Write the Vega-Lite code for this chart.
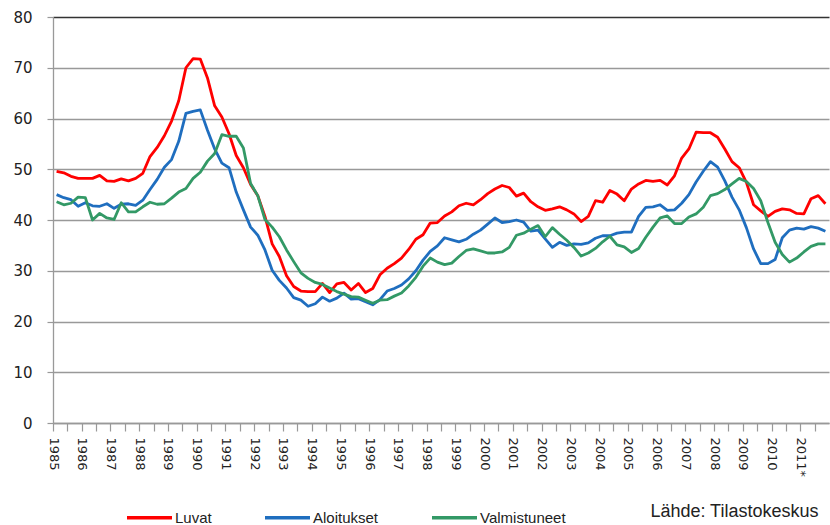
{
  "$schema": "https://vega.github.io/schema/vega-lite/v6.json",
  "width": 776,
  "height": 406,
  "autosize": {"type": "none"},
  "padding": {"left": 53, "top": 17, "right": 1, "bottom": 102},
  "background": "white",
  "config": {"view": {"stroke": null}},
  "data": {"values": [
    {"t":1985.125,"Luvat":49.6,"Aloitukset":45,"Valmistuneet":43.6},
    {"t":1985.375,"Luvat":49.3,"Aloitukset":44.4,"Valmistuneet":43},
    {"t":1985.625,"Luvat":48.6,"Aloitukset":44,"Valmistuneet":43.3},
    {"t":1985.875,"Luvat":48.2,"Aloitukset":42.7,"Valmistuneet":44.5},
    {"t":1986.125,"Luvat":48.2,"Aloitukset":43.4,"Valmistuneet":44.4},
    {"t":1986.375,"Luvat":48.2,"Aloitukset":42.8,"Valmistuneet":40},
    {"t":1986.625,"Luvat":48.8,"Aloitukset":42.7,"Valmistuneet":41.3},
    {"t":1986.875,"Luvat":47.7,"Aloitukset":43.2,"Valmistuneet":40.4},
    {"t":1987.125,"Luvat":47.6,"Aloitukset":42.3,"Valmistuneet":40.1},
    {"t":1987.375,"Luvat":48.1,"Aloitukset":43.1,"Valmistuneet":43.4},
    {"t":1987.625,"Luvat":47.7,"Aloitukset":43.2,"Valmistuneet":41.6},
    {"t":1987.875,"Luvat":48.2,"Aloitukset":42.9,"Valmistuneet":41.6},
    {"t":1988.125,"Luvat":49.2,"Aloitukset":43.9,"Valmistuneet":42.6},
    {"t":1988.375,"Luvat":52.5,"Aloitukset":46,"Valmistuneet":43.5},
    {"t":1988.625,"Luvat":54.3,"Aloitukset":48,"Valmistuneet":43.1},
    {"t":1988.875,"Luvat":56.6,"Aloitukset":50.4,"Valmistuneet":43.2},
    {"t":1989.125,"Luvat":59.5,"Aloitukset":51.9,"Valmistuneet":44.3},
    {"t":1989.375,"Luvat":63.5,"Aloitukset":55.5,"Valmistuneet":45.5},
    {"t":1989.625,"Luvat":70,"Aloitukset":61,"Valmistuneet":46.2},
    {"t":1989.875,"Luvat":71.8,"Aloitukset":61.4,"Valmistuneet":48.2},
    {"t":1990.125,"Luvat":71.7,"Aloitukset":61.7,"Valmistuneet":49.4},
    {"t":1990.375,"Luvat":68,"Aloitukset":57.7,"Valmistuneet":51.6},
    {"t":1990.625,"Luvat":62.5,"Aloitukset":54,"Valmistuneet":53.1},
    {"t":1990.875,"Luvat":60.3,"Aloitukset":51.2,"Valmistuneet":56.8},
    {"t":1991.125,"Luvat":57,"Aloitukset":50.3,"Valmistuneet":56.5},
    {"t":1991.375,"Luvat":52.7,"Aloitukset":45.5,"Valmistuneet":56.5},
    {"t":1991.625,"Luvat":50.3,"Aloitukset":42,"Valmistuneet":54.2},
    {"t":1991.875,"Luvat":47,"Aloitukset":38.6,"Valmistuneet":47.2},
    {"t":1992.125,"Luvat":44.8,"Aloitukset":37,"Valmistuneet":44.8},
    {"t":1992.375,"Luvat":40.7,"Aloitukset":34.1,"Valmistuneet":40.1},
    {"t":1992.625,"Luvat":35.3,"Aloitukset":30.1,"Valmistuneet":38.6},
    {"t":1992.875,"Luvat":32.8,"Aloitukset":28.1,"Valmistuneet":36.7},
    {"t":1993.125,"Luvat":29,"Aloitukset":26.6,"Valmistuneet":34.1},
    {"t":1993.375,"Luvat":26.9,"Aloitukset":24.7,"Valmistuneet":31.8},
    {"t":1993.625,"Luvat":26,"Aloitukset":24.2,"Valmistuneet":29.6},
    {"t":1993.875,"Luvat":25.9,"Aloitukset":23,"Valmistuneet":28.5},
    {"t":1994.125,"Luvat":25.9,"Aloitukset":23.5,"Valmistuneet":27.7},
    {"t":1994.375,"Luvat":27.5,"Aloitukset":24.8,"Valmistuneet":27.3},
    {"t":1994.625,"Luvat":25.7,"Aloitukset":24,"Valmistuneet":26.6},
    {"t":1994.875,"Luvat":27.4,"Aloitukset":24.6,"Valmistuneet":25.9},
    {"t":1995.125,"Luvat":27.7,"Aloitukset":25.6,"Valmistuneet":25.4},
    {"t":1995.375,"Luvat":26.2,"Aloitukset":24.4,"Valmistuneet":24.9},
    {"t":1995.625,"Luvat":27.5,"Aloitukset":24.5,"Valmistuneet":24.8},
    {"t":1995.875,"Luvat":25.7,"Aloitukset":23.9,"Valmistuneet":24.2},
    {"t":1996.125,"Luvat":26.5,"Aloitukset":23.3,"Valmistuneet":23.6},
    {"t":1996.375,"Luvat":29.2,"Aloitukset":24.3,"Valmistuneet":24.2},
    {"t":1996.625,"Luvat":30.5,"Aloitukset":26,"Valmistuneet":24.3},
    {"t":1996.875,"Luvat":31.4,"Aloitukset":26.5,"Valmistuneet":25},
    {"t":1997.125,"Luvat":32.5,"Aloitukset":27.2,"Valmistuneet":25.6},
    {"t":1997.375,"Luvat":34.2,"Aloitukset":28.4,"Valmistuneet":27},
    {"t":1997.625,"Luvat":36.2,"Aloitukset":30,"Valmistuneet":28.7},
    {"t":1997.875,"Luvat":37.1,"Aloitukset":32.1,"Valmistuneet":30.9},
    {"t":1998.125,"Luvat":39.4,"Aloitukset":33.8,"Valmistuneet":32.5},
    {"t":1998.375,"Luvat":39.5,"Aloitukset":34.9,"Valmistuneet":31.7},
    {"t":1998.625,"Luvat":40.8,"Aloitukset":36.5,"Valmistuneet":31.2},
    {"t":1998.875,"Luvat":41.6,"Aloitukset":36.1,"Valmistuneet":31.5},
    {"t":1999.125,"Luvat":42.8,"Aloitukset":35.7,"Valmistuneet":32.8},
    {"t":1999.375,"Luvat":43.3,"Aloitukset":36.2,"Valmistuneet":34},
    {"t":1999.625,"Luvat":43,"Aloitukset":37.2,"Valmistuneet":34.3},
    {"t":1999.875,"Luvat":44,"Aloitukset":38,"Valmistuneet":33.9},
    {"t":2000.125,"Luvat":45.2,"Aloitukset":39.2,"Valmistuneet":33.5},
    {"t":2000.375,"Luvat":46.1,"Aloitukset":40.4,"Valmistuneet":33.5},
    {"t":2000.625,"Luvat":46.8,"Aloitukset":39.5,"Valmistuneet":33.7},
    {"t":2000.875,"Luvat":46.4,"Aloitukset":39.7,"Valmistuneet":34.6},
    {"t":2001.125,"Luvat":44.7,"Aloitukset":40,"Valmistuneet":37},
    {"t":2001.375,"Luvat":45.3,"Aloitukset":39.6,"Valmistuneet":37.4},
    {"t":2001.625,"Luvat":43.6,"Aloitukset":37.8,"Valmistuneet":38.2},
    {"t":2001.875,"Luvat":42.6,"Aloitukset":38,"Valmistuneet":38.9},
    {"t":2002.125,"Luvat":41.9,"Aloitukset":36.3,"Valmistuneet":36.7},
    {"t":2002.375,"Luvat":42.2,"Aloitukset":34.6,"Valmistuneet":38.5},
    {"t":2002.625,"Luvat":42.6,"Aloitukset":35.6,"Valmistuneet":37.2},
    {"t":2002.875,"Luvat":42,"Aloitukset":35,"Valmistuneet":36},
    {"t":2003.125,"Luvat":41.2,"Aloitukset":35.3,"Valmistuneet":34.6},
    {"t":2003.375,"Luvat":39.7,"Aloitukset":35.2,"Valmistuneet":32.9},
    {"t":2003.625,"Luvat":40.7,"Aloitukset":35.5,"Valmistuneet":33.5},
    {"t":2003.875,"Luvat":43.8,"Aloitukset":36.4,"Valmistuneet":34.4},
    {"t":2004.125,"Luvat":43.5,"Aloitukset":36.9,"Valmistuneet":35.7},
    {"t":2004.375,"Luvat":45.8,"Aloitukset":36.9,"Valmistuneet":36.8},
    {"t":2004.625,"Luvat":45.1,"Aloitukset":37.4,"Valmistuneet":35.1},
    {"t":2004.875,"Luvat":43.8,"Aloitukset":37.6,"Valmistuneet":34.7},
    {"t":2005.125,"Luvat":46.1,"Aloitukset":37.6,"Valmistuneet":33.6},
    {"t":2005.375,"Luvat":47.1,"Aloitukset":40.7,"Valmistuneet":34.4},
    {"t":2005.625,"Luvat":47.8,"Aloitukset":42.5,"Valmistuneet":36.6},
    {"t":2005.875,"Luvat":47.6,"Aloitukset":42.6,"Valmistuneet":38.6},
    {"t":2006.125,"Luvat":47.8,"Aloitukset":43,"Valmistuneet":40.4},
    {"t":2006.375,"Luvat":46.9,"Aloitukset":41.9,"Valmistuneet":40.8},
    {"t":2006.625,"Luvat":48.7,"Aloitukset":42,"Valmistuneet":39.3},
    {"t":2006.875,"Luvat":52.2,"Aloitukset":43.3,"Valmistuneet":39.3},
    {"t":2007.125,"Luvat":54,"Aloitukset":45,"Valmistuneet":40.6},
    {"t":2007.375,"Luvat":57.3,"Aloitukset":47.5,"Valmistuneet":41.2},
    {"t":2007.625,"Luvat":57.2,"Aloitukset":49.6,"Valmistuneet":42.5},
    {"t":2007.875,"Luvat":57.2,"Aloitukset":51.5,"Valmistuneet":44.8},
    {"t":2008.125,"Luvat":56.3,"Aloitukset":50.4,"Valmistuneet":45.2},
    {"t":2008.375,"Luvat":54,"Aloitukset":47.7,"Valmistuneet":46},
    {"t":2008.625,"Luvat":51.5,"Aloitukset":44.5,"Valmistuneet":47.1},
    {"t":2008.875,"Luvat":50.3,"Aloitukset":42,"Valmistuneet":48.2},
    {"t":2009.125,"Luvat":47.4,"Aloitukset":38.5,"Valmistuneet":47.6},
    {"t":2009.375,"Luvat":43,"Aloitukset":34.3,"Valmistuneet":46.2},
    {"t":2009.625,"Luvat":41.8,"Aloitukset":31.4,"Valmistuneet":43.8},
    {"t":2009.875,"Luvat":40.7,"Aloitukset":31.4,"Valmistuneet":39.5},
    {"t":2010.125,"Luvat":41.7,"Aloitukset":32.2,"Valmistuneet":35.6},
    {"t":2010.375,"Luvat":42.2,"Aloitukset":36.5,"Valmistuneet":33.2},
    {"t":2010.625,"Luvat":42,"Aloitukset":38,"Valmistuneet":31.7},
    {"t":2010.875,"Luvat":41.3,"Aloitukset":38.4,"Valmistuneet":32.5},
    {"t":2011.125,"Luvat":41.2,"Aloitukset":38.2,"Valmistuneet":33.7},
    {"t":2011.375,"Luvat":44.2,"Aloitukset":38.7,"Valmistuneet":34.8},
    {"t":2011.625,"Luvat":44.8,"Aloitukset":38.4,"Valmistuneet":35.3},
    {"t":2011.875,"Luvat":43.2,"Aloitukset":37.8,"Valmistuneet":35.3}
  ]},
  "transform": [
    {"fold": ["Luvat", "Aloitukset", "Valmistuneet"], "as": ["sarja", "arvo"]}
  ],
  "mark": {"type": "line", "strokeWidth": 2.8, "strokeJoin": "round"},
  "encoding": {
    "x": {
      "field": "t",
      "type": "quantitative",
      "scale": {"domain": [1985, 2012], "nice": false, "zero": false},
      "axis": {
        "title": "Lähde: Tilastokeskus",
        "titleFont": "Liberation Sans",
        "titleFontSize": 18,
        "titleFontWeight": "normal",
        "titleColor": "#222222",
        "titleAlign": "right",
        "titleBaseline": "middle",
        "titleAngle": 0,
        "titleX": 765,
        "titleY": 88,
        "values": [1985,1985.5,1986,1986.5,1987,1987.5,1988,1988.5,1989,1989.5,1990,1990.5,1991,1991.5,1992,1992.5,1993,1993.5,1994,1994.5,1995,1995.5,1996,1996.5,1997,1997.5,1998,1998.5,1999,1999.5,2000,2000.5,2001,2001.5,2002,2002.5,2003,2003.5,2004,2004.5,2005,2005.5,2006,2006.5,2007,2007.5,2008,2008.5,2009,2009.5,2010,2010.5,2011,2011.5],
        "labelExpr": "datum.value % 1 == 0 ? (datum.value == 2011 ? '2011*' : '' + datum.value) : ''",
        "labelAngle": 90,
        "labelAlign": "left",
        "labelBaseline": "middle",
        "labelFont": "DejaVu Sans",
        "labelFontSize": 13,
        "labelColor": "#222222",
        "labelPadding": 6,
        "labelOverlap": false,
        "labelFlush": false,
        "tickSize": 8,
        "tickColor": "#999999",
        "tickWidth": 1.2,
        "domainColor": "#999999",
        "domainWidth": 1.3,
        "grid": false
      }
    },
    "y": {
      "field": "arvo",
      "type": "quantitative",
      "scale": {"domain": [0, 80], "nice": false},
      "axis": {
        "title": null,
        "values": [0, 10, 20, 30, 40, 50, 60, 70, 80],
        "labelFont": "DejaVu Sans",
        "labelFontSize": 15,
        "labelColor": "#222222",
        "labelPadding": 15,
        "tickSize": 6,
        "tickColor": "#999999",
        "tickWidth": 1.2,
        "domainColor": "#999999",
        "domainWidth": 1.3,
        "grid": true,
        "gridColor": {"condition": {"test": "datum.value == 80", "value": "#333333"}, "value": "#999999"},
        "gridWidth": 1.3
      }
    },
    "color": {
      "field": "sarja",
      "type": "nominal",
      "scale": {"domain": ["Luvat", "Aloitukset", "Valmistuneet"], "range": ["#FF0000", "#1F6EBF", "#339966"]},
      "legend": {
        "title": null,
        "orient": "none",
        "legendX": 72,
        "legendY": 476,
        "direction": "horizontal",
        "symbolType": "stroke",
        "symbolSize": 2025,
        "symbolStrokeWidth": 3.5,
        "labelFont": "Liberation Sans",
        "labelFontSize": 15,
        "labelColor": "#222222",
        "labelOffset": 1,
        "columnPadding": 46
      }
    }
  }
}
